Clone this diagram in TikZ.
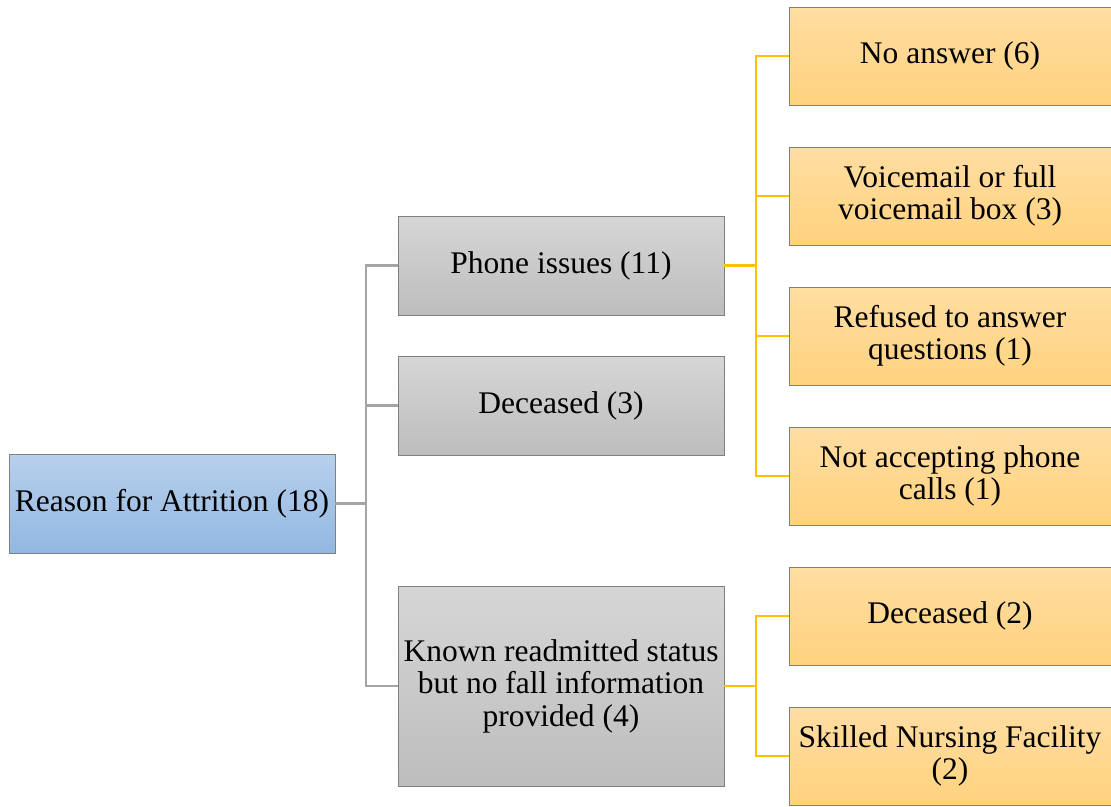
\documentclass[tikz,border=0pt]{standalone}
\usepackage{fontspec}
\setmainfont{Liberation Serif}
\begin{document}
\begin{tikzpicture}[x=1pt,y=-1pt,
  box/.style={draw=black!50,line width=0.8pt,inner sep=0pt,outer sep=0pt,align=center,
    font=\fontsize{31.5}{32.5}\selectfont,text=black},
  rootbox/.style={box,minimum width=326pt,minimum height=99pt,top color=blue1,bottom color=blue2},
  midbox/.style={box,minimum width=326pt,top color=gray1,bottom color=gray2},
  leafbox/.style={box,minimum width=322pt,minimum height=98pt,top color=or1,bottom color=or2},
  gline/.style={draw=lgray,line width=2.4pt},
  oline/.style={draw=lorange,line width=2.4pt}]
\definecolor{blue1}{HTML}{B7D0EC}
\definecolor{blue2}{HTML}{93B7E1}
\definecolor{gray1}{HTML}{D6D6D6}
\definecolor{gray2}{HTML}{BDBDBD}
\definecolor{or1}{HTML}{FFDEA3}
\definecolor{or2}{HTML}{FFD27E}
\definecolor{lgray}{HTML}{A5A5A5}
\definecolor{lorange}{HTML}{FFC000}
\useasboundingbox (0,0) rectangle (1111,806);

\node[rootbox] (root) at (172,503.5) {Reason for Attrition (18)};
\node[midbox,minimum height=99pt] (phone) at (561,265.5) {Phone issues (11)};
\node[midbox,minimum height=99pt] (dec) at (561,405.5) {Deceased (3)};
\node[midbox,minimum height=200pt] (known) at (561,686) {Known readmitted status\\but no fall information\\provided (4)};

\node[leafbox] (l1) at (950,56) {No answer (6)};
\node[leafbox] (l2) at (950,196) {Voicemail or full\\voicemail box (3)};
\node[leafbox] (l3) at (950,336) {Refused to answer\\questions (1)};
\node[leafbox] (l4) at (950,476) {Not accepting phone\\calls (1)};
\node[leafbox] (l5) at (950,616) {Deceased (2)};
\node[leafbox] (l6) at (950,756) {Skilled Nursing Facility\\(2)};

\coordinate (g) at (366,0);
\coordinate (o) at (756,0);
\draw[gline] (root.east) -- (g |- root.east);
\draw[gline] (phone.west) -| (g |- root.east) |- (known.west);
\draw[gline] (dec.west) -- (g |- dec.west);

\draw[oline] (phone.east) -- (o |- phone.east);
\draw[oline] (l1.west) -| (o |- phone.east) |- (l4.west);
\draw[oline] (l2.west) -- (o |- l2.west);
\draw[oline] (l3.west) -- (o |- l3.west);
\draw[oline] (known.east) -- (o |- known.east);
\draw[oline] (l5.west) -| (o |- known.east) |- (l6.west);
\end{tikzpicture}
\end{document}
